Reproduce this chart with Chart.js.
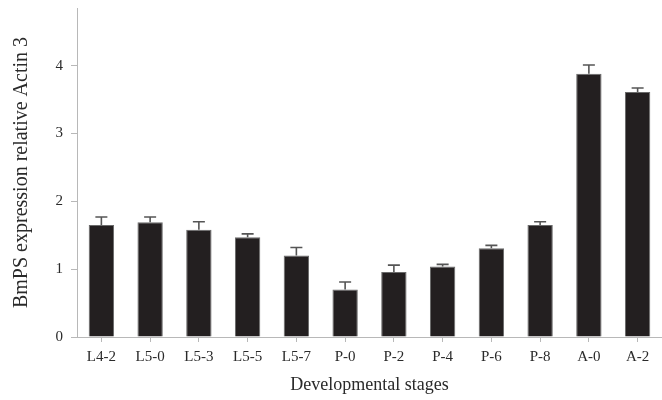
<!DOCTYPE html>
<html>
<head>
<meta charset="utf-8">
<script src="https://cdn.jsdelivr.net/npm/chart.js@4/dist/chart.umd.min.js"></script>
<style>
  html, body { margin: 0; padding: 0; background: #fff; }
  #wrap { width: 662px; height: 400px; }
</style>
</head>
<body>
<div id="wrap"><canvas id="chart" width="662" height="400"></canvas></div>
<script>
const stages = ["L4-2", "L5-0", "L5-3", "L5-5", "L5-7", "P-0", "P-2", "P-4", "P-6", "P-8", "A-0", "A-2"];
const expression = [1.65, 1.69, 1.58, 1.47, 1.20, 0.70, 0.96, 1.04, 1.31, 1.65, 3.88, 3.61];
const errorUp = [0.12, 0.08, 0.12, 0.05, 0.12, 0.11, 0.10, 0.03, 0.04, 0.05, 0.13, 0.06];
const yTicks = [0, 1, 2, 3, 4];

const serif = "'Liberation Serif', 'Times New Roman', serif";
const axisColor = "#b8b8b8";
const textColor = "#2a2a2a";

// draws the upper error whiskers on top of each bar
const errorBars = {
    id: "errorBars",
    afterDatasetsDraw(chart) {
        const ctx = chart.ctx;
        const y = chart.scales.y;
        const meta = chart.getDatasetMeta(0);
        ctx.save();
        ctx.strokeStyle = "#555";
        ctx.lineWidth = 1.6;
        meta.data.forEach((bar, i) => {
            const top = y.getPixelForValue(expression[i] + errorUp[i]);
            const base = y.getPixelForValue(expression[i]);
            ctx.beginPath();
            ctx.moveTo(bar.x, base);
            ctx.lineTo(bar.x, top);
            ctx.moveTo(bar.x - 6, top);
            ctx.lineTo(bar.x + 6, top);
            ctx.stroke();
        });
        ctx.restore();
    }
};

new Chart(document.getElementById("chart").getContext("2d"), {
    type: "bar",
    data: {
        labels: stages,
        datasets: [{
            data: expression,
            backgroundColor: "#231f20",
            borderColor: "#6a6a6a",
            borderWidth: 1,
            barPercentage: 0.52,
            categoryPercentage: 1
        }]
    },
    options: {
        responsive: false,
        animation: false,
        layout: { padding: { top: 8, right: 0, left: 0, bottom: 0 } },
        plugins: {
            legend: { display: false },
            tooltip: { enabled: false }
        },
        scales: {
            x: {
                grid: {
                    offset: false,
                    drawOnChartArea: false,
                    drawTicks: true,
                    tickLength: 5,
                    tickColor: axisColor
                },
                border: { color: axisColor, width: 1 },
                ticks: {
                    color: textColor,
                    font: { family: serif, size: 15 },
                    padding: 6,
                    maxRotation: 0,
                    autoSkip: false
                },
                title: {
                    display: true,
                    text: "Developmental stages",
                    color: textColor,
                    font: { family: serif, size: 18 },
                    padding: { top: 8 }
                },
                afterFit(scale) { scale.height = 63; }
            },
            y: {
                min: 0,
                max: 4.85,
                afterBuildTicks(scale) {
                    scale.ticks = yTicks.map(v => ({ value: v }));
                },
                grid: {
                    drawOnChartArea: false,
                    drawTicks: true,
                    tickLength: 6,
                    tickColor: axisColor
                },
                border: { color: axisColor, width: 1 },
                ticks: {
                    color: textColor,
                    font: { family: serif, size: 15 },
                    padding: 8
                },
                title: {
                    display: true,
                    text: "BmPS expression relative Actin 3",
                    color: textColor,
                    font: { family: serif, size: 20 },
                    padding: { top: 10, bottom: 4 }
                },
                afterFit(scale) {
                    scale.width = 77;
                    scale.paddingTop = 0;
                    scale.paddingBottom = 0;
                }
            }
        }
    },
    plugins: [errorBars]
});
</script>
</body>
</html>
